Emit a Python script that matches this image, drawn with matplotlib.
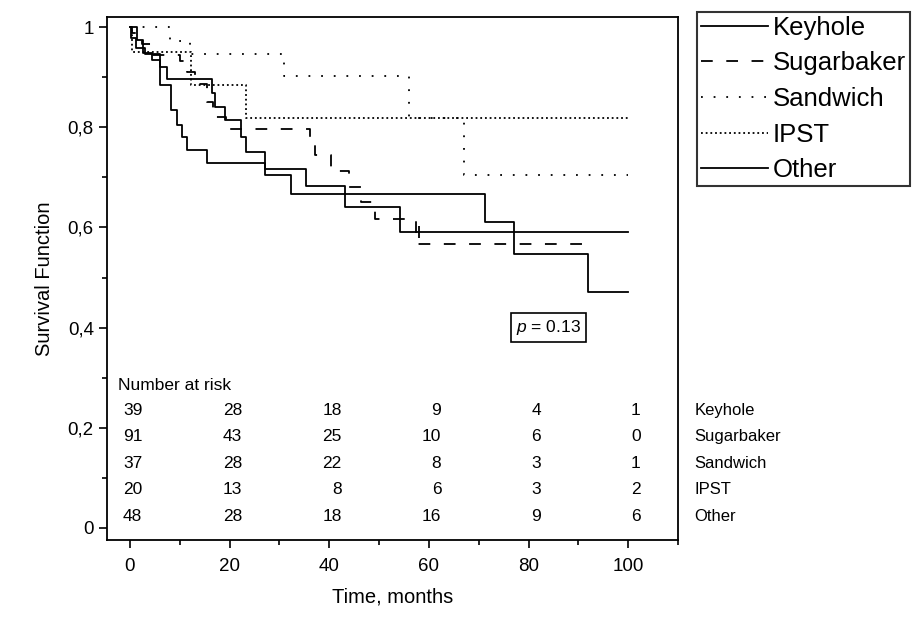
import numpy as np
import matplotlib
matplotlib.use('Agg')
import matplotlib.pyplot as plt

plt.rcParams['font.family'] = ['Liberation Sans', 'DejaVu Sans']
plt.rcParams['mathtext.fontset'] = 'custom'
plt.rcParams['mathtext.it'] = 'Liberation Sans:italic'
plt.rcParams['mathtext.rm'] = 'Liberation Sans'

# Kaplan-Meier steps (time in months, survival from that time on)
keyhole_t = [0, 1.5, 2.6, 4.4, 6.0, 7.4, 16.4, 17.1, 19.1, 22.2, 23.3, 27.1, 32.3, 43.2, 54.2, 100]
keyhole_s = [1.0, 0.974, 0.949, 0.935, 0.921, 0.897, 0.869, 0.840, 0.815, 0.780, 0.750, 0.705, 0.666, 0.641, 0.591, 0.591]
keyhole_cens_t = [58]
keyhole_cens_s = [0.591]

sugar_t = [0, 0.5, 1.5, 2.5, 4.4, 10.0, 11.4, 13.0, 15.4, 16.7, 19.3, 36.1, 37.1, 40.4, 44.0, 46.4, 49.2, 57.5, 91]
sugar_s = [1.0, 0.989, 0.978, 0.967, 0.945, 0.932, 0.910, 0.886, 0.850, 0.820, 0.797, 0.770, 0.745, 0.712, 0.680, 0.650, 0.617, 0.566, 0.566]

sandwich_t = [0, 8.0, 12.0, 31.0, 56.1, 67.1, 100]
sandwich_s = [1.0, 0.973, 0.946, 0.903, 0.818, 0.704, 0.704]

ipst_t = [0, 0.5, 12.3, 23.3, 100]
ipst_s = [1.0, 0.950, 0.884, 0.818, 0.818]

other_t = [0, 0.3, 1.2, 3.0, 6.0, 8.2, 9.4, 10.4, 11.4, 15.4, 27.1, 35.3, 43.2, 71.3, 77.0, 92.0, 100]
other_s = [1.0, 0.979, 0.958, 0.947, 0.884, 0.834, 0.804, 0.780, 0.754, 0.729, 0.717, 0.682, 0.667, 0.611, 0.547, 0.471, 0.471]

# number at risk table
groups = ['Keyhole', 'Sugarbaker', 'Sandwich', 'IPST', 'Other']
risk_times = [0, 20, 40, 60, 80, 100]
at_risk = {
    'Keyhole':    [39, 28, 18, 9, 4, 1],
    'Sugarbaker': [91, 43, 25, 10, 6, 0],
    'Sandwich':   [37, 28, 22, 8, 3, 1],
    'IPST':       [20, 13, 8, 6, 3, 2],
    'Other':      [48, 28, 18, 16, 9, 6],
}
row_y = [0.235, 0.183, 0.129, 0.076, 0.023]

fig, ax = plt.subplots(figsize=(9.2, 6.22), dpi=100)
fig.subplots_adjust(left=0.1163, right=0.737, bottom=0.1318, top=0.9727)

lw = 1.3
ax.step(keyhole_t, keyhole_s, where='post', color='black', lw=lw, label='Keyhole')
ax.step(sugar_t, sugar_s, where='post', color='black', lw=lw,
        linestyle=(0, (6.5, 7.5)), label='Sugarbaker')
ax.step(sandwich_t, sandwich_s, where='post', color='black', lw=lw,
        linestyle=(0, (1, 6)), label='Sandwich')
ax.step(ipst_t, ipst_s, where='post', color='black', lw=lw,
        linestyle=(0, (1, 1.6)), label='IPST')
ax.step(other_t, other_s, where='post', color='black', lw=lw, label='Other')
ax.plot(keyhole_cens_t, keyhole_cens_s, linestyle='none', marker='|',
        ms=8, mew=1.3, color='black')

ax.set_xlim(-4.6, 110)
ax.set_ylim(-0.025, 1.021)
ax.set_xticks(risk_times)
ax.set_xticks([10, 30, 50, 70, 90, 110], minor=True)
ax.set_yticks([0, 0.2, 0.4, 0.6, 0.8, 1.0])
ax.set_yticklabels(['0', '0,2', '0,4', '0,6', '0,8', '1'])
ax.set_yticks([0.1, 0.3, 0.5, 0.7, 0.9], minor=True)
ax.tick_params(which='both', direction='out', width=1.2, labelsize=13.5, colors='black')
ax.tick_params(which='major', length=6)
ax.tick_params(which='minor', length=3.5)
ax.tick_params(axis='x', pad=7)
for sp in ax.spines.values():
    sp.set_linewidth(1.3)

ax.set_xlabel('Time, months', fontsize=14.5, labelpad=9)
ax.set_ylabel('Survival Function', fontsize=14.5, labelpad=10)

# at-risk table
ax.text(-2.3, 0.284, 'Number at risk', fontsize=12.5, ha='left', va='center')
for g, yy in zip(groups, row_y):
    for t, n in zip(risk_times, at_risk[g]):
        ax.text(t + 2.5, yy, str(n), fontsize=12.5, ha='right', va='center')
    ax.text(113.3, yy, g, fontsize=12, ha='left', va='center', clip_on=False)

ax.text(84.0, 0.40, '$p$ = 0.13', fontsize=12.5, ha='center', va='center',
        bbox=dict(boxstyle='square,pad=0.3', fc='white', ec='black', lw=1.2))

leg = fig.legend(loc='upper left', bbox_to_anchor=(697 / 920, 1 - 12 / 622),
                 bbox_transform=fig.transFigure, frameon=True, fancybox=False,
                 edgecolor='black', fontsize=18.5, handlelength=2.6,
                 handletextpad=0.2, borderpad=0.15, labelspacing=0.45,
                 borderaxespad=0)
leg.get_frame().set_linewidth(1.5)

fig.savefig('out.png', dpi=100)
